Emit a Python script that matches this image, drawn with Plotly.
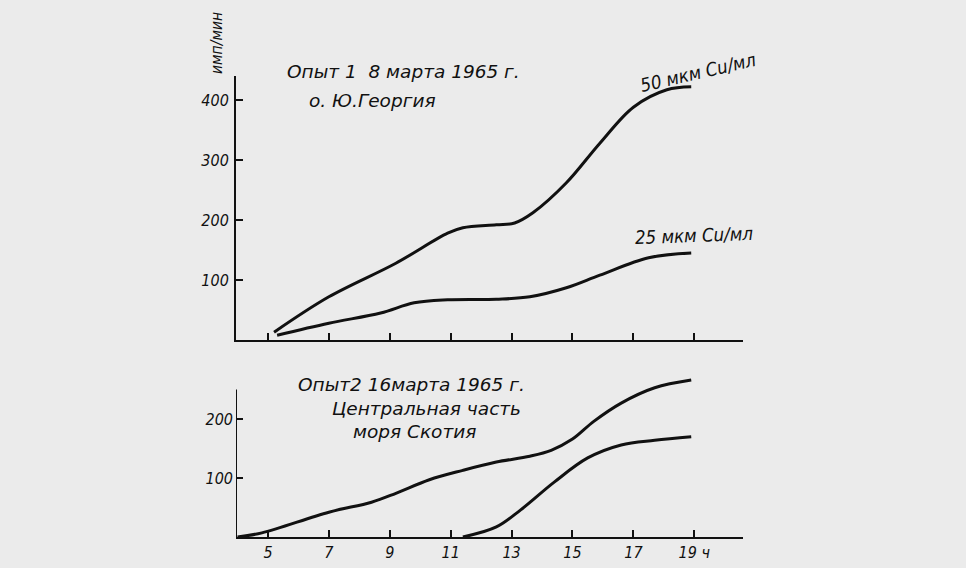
import plotly.graph_objects as go

# ---- data ----
hours_ticks = [5, 7, 9, 11, 13, 15, 17, 19]
hours_tick_labels = ["5", "7", "9", "11", "13", "15", "17", "19 ч"]

# Опыт 1 (top panel)
exp1_50_h = [5.2, 7.0, 9.2, 10.9, 11.4, 12.5, 13.1, 13.7, 14.8, 15.9, 17.0, 18.1, 18.9]
exp1_50_v = [13, 72, 128, 178, 187, 192, 195, 212, 262, 328, 388, 417, 422]
exp1_25_h = [5.3, 7.0, 8.7, 9.8, 10.9, 12.5, 13.6, 14.8, 15.9, 17.5, 18.9]
exp1_25_v = [8, 28, 45, 62, 67, 68, 72, 87, 108, 137, 145]

# Опыт 2 (bottom panel)
exp2_50_h = [4.0, 4.8, 7.0, 8.4, 9.2, 10.3, 11.4, 12.5, 13.6, 14.3, 15.0, 15.7, 16.6, 17.7, 18.9]
exp2_50_v = [0, 7, 42, 59, 74, 97, 113, 127, 137, 147, 166, 196, 227, 253, 266]
exp2_25_h = [11.4, 12.5, 13.3, 14.4, 15.5, 16.6, 17.7, 18.9]
exp2_25_v = [0, 17, 46, 93, 134, 156, 164, 170]

top_yticks = [100, 200, 300, 400]
bot_yticks = [100, 200]
bot_axis_top = 250

W, H = 966, 568
BG = "#ebebeb"
INK = "#111111"
FONT = "DejaVu Sans Condensed, Liberation Sans Narrow, DejaVu Sans, sans-serif"
FONT_WIDE = "DejaVu Sans, Liberation Sans, sans-serif"


def px(x):
    return x / W


def py(y):
    return 1 - y / H


fig = go.Figure()
line = dict(color=INK, width=3, shape="spline", smoothing=1.0)
fig.add_trace(go.Scatter(x=exp1_50_h, y=exp1_50_v, mode="lines", line=line,
                         xaxis="x", yaxis="y", showlegend=False, hoverinfo="skip"))
fig.add_trace(go.Scatter(x=exp1_25_h, y=exp1_25_v, mode="lines", line=line,
                         xaxis="x", yaxis="y", showlegend=False, hoverinfo="skip"))
fig.add_trace(go.Scatter(x=exp2_50_h, y=exp2_50_v, mode="lines", line=line,
                         xaxis="x2", yaxis="y2", showlegend=False, hoverinfo="skip"))
fig.add_trace(go.Scatter(x=exp2_25_h, y=exp2_25_v, mode="lines", line=line,
                         xaxis="x2", yaxis="y2", showlegend=False, hoverinfo="skip"))

tickfont = dict(family=FONT, size=16, color=INK, style="italic")
xrange_ = [3.95, 20.6]
xdom = [px(236), px(743)]
xcommon = dict(range=xrange_, domain=xdom, showgrid=False, zeroline=False,
               showline=True, linecolor=INK, linewidth=2,
               ticks="inside", ticklen=7, tickwidth=2, tickcolor=INK,
               tickvals=hours_ticks, ticktext=hours_tick_labels, tickfont=tickfont)
ycommon = dict(showgrid=False, zeroline=False, linecolor=INK, linewidth=2,
               ticks="inside", ticklen=7, tickwidth=2, tickcolor=INK, tickfont=tickfont,
               ticklabelstandoff=2)

fig.update_layout(
    width=W, height=H,
    margin=dict(l=0, r=0, t=0, b=0),
    paper_bgcolor=BG, plot_bgcolor="rgba(0,0,0,0)",
    xaxis=dict(xcommon, anchor="y", showticklabels=False),
    yaxis=dict(ycommon, anchor="x", showline=True, range=[0, 440],
               domain=[py(340), py(76)], tickvals=top_yticks),
    xaxis2=dict(xcommon, anchor="y2", showticklabels=True),
    yaxis2=dict(ycommon, anchor="x2", showline=False, range=[0, 290],
                domain=[py(537), py(537 - 290 * 0.59)], tickvals=bot_yticks),
)

# bottom y axis line stops at 250 while the curve runs above it
fig.add_shape(type="line", xref="x2", yref="y2", x0=xrange_[0], x1=xrange_[0],
              y0=0, y1=bot_axis_top, line=dict(color=INK, width=2))

titlefont = dict(family=FONT_WIDE, size=18.5, color=INK, style="italic")
curvefont = dict(family=FONT, size=18.5, color=INK, style="italic")
ann = [
    ("Опыт 1  8 марта 1965 г.", 403, 71, 0, titlefont),
    ("о. Ю.Георгия", 372, 100, 0, titlefont),
    ("50 мкм Cu/мл", 698, 72, -13, curvefont),
    ("25 мкм Cu/мл", 694, 235, -2, curvefont),
    ("Опыт2 16марта 1965 г.", 411, 384, 0, titlefont),
    ("Центральная часть", 426, 408, 0, titlefont),
    ("моря Скотия", 414, 431, 0, titlefont),
    ("имп/мин", 217, 43, -90, dict(family=FONT, size=15.5, color=INK, style="italic")),
]
for text, x, y, ang, f in ann:
    fig.add_annotation(text=text, x=px(x), y=py(y), xref="paper", yref="paper",
                       xanchor="center", yanchor="middle", showarrow=False,
                       textangle=ang, font=f)

fig.write_html("out.html", config={"displayModeBar": False},
               post_script="document.body.style.margin='0';document.body.style.background='%s';" % BG)
